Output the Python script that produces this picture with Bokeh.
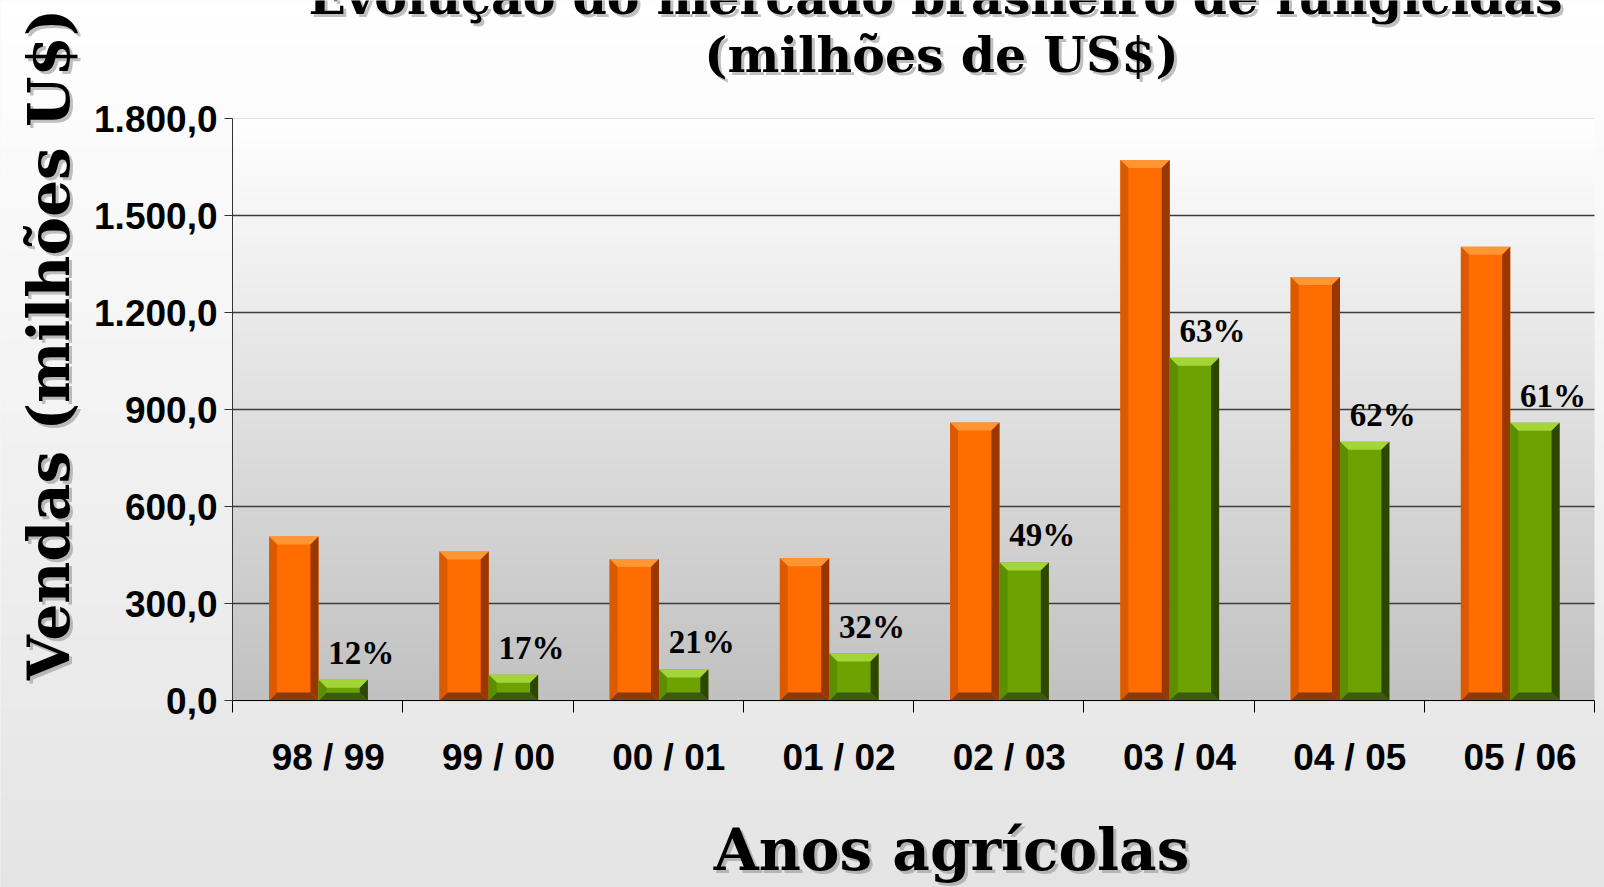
import numpy as np
from bokeh.plotting import figure
from bokeh.models import Range1d, FixedTicker, Label, BoxAnnotation, ColumnDataSource, LinearAxis
from bokeh.embed import file_html
from bokeh.resources import INLINE
from bokeh.core.properties import value

# ---------------- data ----------------
categories = ["98 / 99", "99 / 00", "00 / 01", "01 / 02", "02 / 03", "03 / 04", "04 / 05", "05 / 06"]
total_sales = [507, 461, 438, 440, 860, 1672, 1310, 1403]       # orange series
fungicide_sales = [64, 80, 96, 145, 427, 1060, 800, 859]       # green series
share_labels = ["12%", "17%", "21%", "32%", "49%", "63%", "62%", "61%"]
y_ticks = [0, 300, 600, 900, 1200, 1500, 1800]

title_line1 = "Evolução do mercado brasileiro de fungicidas"
title_line2 = "(milhões de US$)"
y_title = "Vendas (milhões U$)"
x_title = "Anos agrícolas"

# ---------------- layout (canvas pixels) ----------------
W, H = 1604, 887
FL, FR, FT, FB = 232, 1594, 118, 700          # plot area edges
NX = len(categories)
YMAX = 1800.0
px_x = NX / (FR - FL)
px_y = YMAX / (FB - FT)


def dx(cx):
    return (cx - FL) * px_x


def dy(cy):
    return (FB - cy) * px_y


p = figure(width=W, height=H,
           x_range=Range1d(dx(0), dx(W)), y_range=Range1d(dy(H), dy(0)),
           output_backend="svg", toolbar_location=None,
           x_axis_location=None, y_axis_location=None, min_border=0)
p.title.visible = False
p.grid.visible = False
p.outline_line_color = None
p.border_fill_color = "#EFEFEF"
p.background_fill_color = "#EFEFEF"

# ---------------- background gradients ----------------
nb = 60
edges = np.linspace(0, H, nb + 1)
for i in range(nb):
    cy0, cy1 = edges[i], edges[i + 1]
    t = ((cy0 + cy1) / 2) / H
    g = int(round(255 - 27 * t))
    p.add_layout(BoxAnnotation(left=dx(-5), right=dx(W + 5), top=dy(cy0 - 1), bottom=dy(cy1 + 1),
                               fill_color=f"#{g:02x}{g:02x}{g:02x}", fill_alpha=1.0,
                               line_color=None, level="image"))

yedges = np.linspace(0, YMAX, nb + 1)
for i in range(nb):
    t = (yedges[i] + yedges[i + 1]) / 2 / YMAX
    g = int(round(192 + 63 * t))
    p.add_layout(BoxAnnotation(left=0, right=NX, bottom=yedges[i] - 2, top=yedges[i + 1] + 2,
                               fill_color=f"#{g:02x}{g:02x}{g:02x}", fill_alpha=1.0,
                               line_color=None, level="image"))

# ---------------- grid lines ----------------
inner = y_ticks[1:-1]
p.segment(x0=[0] * len(inner), x1=[NX] * len(inner), y0=inner, y1=inner,
          line_color="#3C3C3C", line_width=1.3, level="underlay")
p.segment(x0=[0], x1=[NX], y0=[y_ticks[-1]], y1=[y_ticks[-1]],
          line_color="#E2E2E2", line_width=1, level="underlay")

# ---------------- axes ----------------
centers = [i + 0.5625 for i in range(NX)]
xaxis = LinearAxis(fixed_location=0, bounds=(0, NX),
                   ticker=FixedTicker(ticks=centers, minor_ticks=list(range(NX + 1))))
xaxis.major_label_overrides = {c: lab for c, lab in zip(centers, categories)}
xaxis.major_tick_out = 0
xaxis.major_tick_in = 0
xaxis.minor_tick_out = 12
xaxis.minor_tick_in = 0
xaxis.minor_tick_line_color = "#000000"
xaxis.axis_line_color = "#000000"
xaxis.major_label_standoff = 24
xaxis.major_label_text_font = "Liberation Sans"
xaxis.major_label_text_font_style = "bold"
xaxis.major_label_text_font_size = "37px"
xaxis.major_label_text_color = "#000000"
p.add_layout(xaxis, "below")

yaxis = LinearAxis(fixed_location=0, bounds=(0, YMAX), ticker=FixedTicker(ticks=y_ticks))
yaxis.major_label_overrides = {
    t: f"{t:,.1f}".replace(",", "X").replace(".", ",").replace("X", ".") for t in y_ticks}
yaxis.major_tick_out = 8
yaxis.major_tick_in = 0
yaxis.minor_tick_out = 0
yaxis.minor_tick_in = 0
yaxis.axis_line_color = "#333333"
yaxis.major_tick_line_color = "#333333"
yaxis.major_label_standoff = 7
yaxis.major_label_text_font = "Liberation Sans"
yaxis.major_label_text_font_style = "bold"
yaxis.major_label_text_font_size = "37px"
yaxis.major_label_text_color = "#000000"
p.add_layout(yaxis, "left")

# ---------------- bars with bevel ----------------
BAR_W = 0.29
orange_x = [i + 0.505 - 0.145 for i in range(NX)]
green_x = [i + 0.505 + 0.145 for i in range(NX)]

series = [
    (orange_x, total_sales, "#FF6C00", ["#FF9633", "#8A3A10", "#DB5A00", "#983800"]),
    (green_x, fungicide_sales, "#6DA300", ["#A3D438", "#3D5A12", "#5B8E00", "#2D4600"]),
]
BX = 8 * px_x
for xs, vals, main, faces in series:
    src = ColumnDataSource(dict(x=xs, top=vals))
    p.vbar(x="x", top="top", width=BAR_W, source=src, fill_color=main, line_color=None)
    pxs, pys, cols = [], [], []
    for c, h in zip(xs, vals):
        x0, x1 = c - BAR_W / 2, c + BAR_W / 2
        by = min(8 * px_y, 0.38 * h)
        xi0, xi1, yi0, yi1 = x0 + BX, x1 - BX, by, h - by
        polys = [
            ([x0, x1, xi1, xi0], [h, h, yi1, yi1]),       # top
            ([x0, x1, xi1, xi0], [0, 0, yi0, yi0]),       # bottom
            ([x0, x0, xi0, xi0], [0, h, yi1, yi0]),       # left
            ([x1, x1, xi1, xi1], [0, h, yi1, yi0]),       # right
        ]
        for (px_, py_), col in zip(polys, faces):
            pxs.append(px_)
            pys.append(py_)
            cols.append(col)
    p.patches(xs="xs", ys="ys", fill_color="c", line_color=None,
              source=ColumnDataSource(dict(xs=pxs, ys=pys, c=cols)))

# ---------------- share labels ----------------
LABEL_DX = 18 * px_x
LABEL_DY = 27 * px_y
p.text(x=[x + LABEL_DX for x in green_x], y=[v + LABEL_DY for v in fungicide_sales],
       text=share_labels, text_align="center", text_baseline="middle",
       text_font=value("Liberation Serif"), text_font_style="bold",
       text_font_size="33px", text_color="#000000")


# ---------------- titles ----------------
def add_text(txt, cx, cy, size, angle=0.0, align="center"):
    common = dict(angle=angle, text_align=align, text_baseline="middle",
                  text_font="DejaVu Serif", text_font_style="bold", text_font_size=size)
    p.add_layout(Label(x=dx(cx + 3), y=dy(cy + 3), text=txt, text_color="#8C8C8C",
                       text_alpha=0.55, **common))
    p.add_layout(Label(x=dx(cx), y=dy(cy), text=txt, text_color="#000000", **common))


add_text(title_line1, 935, -4, "49px")
add_text(title_line2, 941, 54, "49px")
add_text(y_title, 48, 344, "58px", angle=np.pi / 2)
add_text(x_title, 951, 849, "58px")

open("out.html", "w").write(file_html(p, INLINE))
